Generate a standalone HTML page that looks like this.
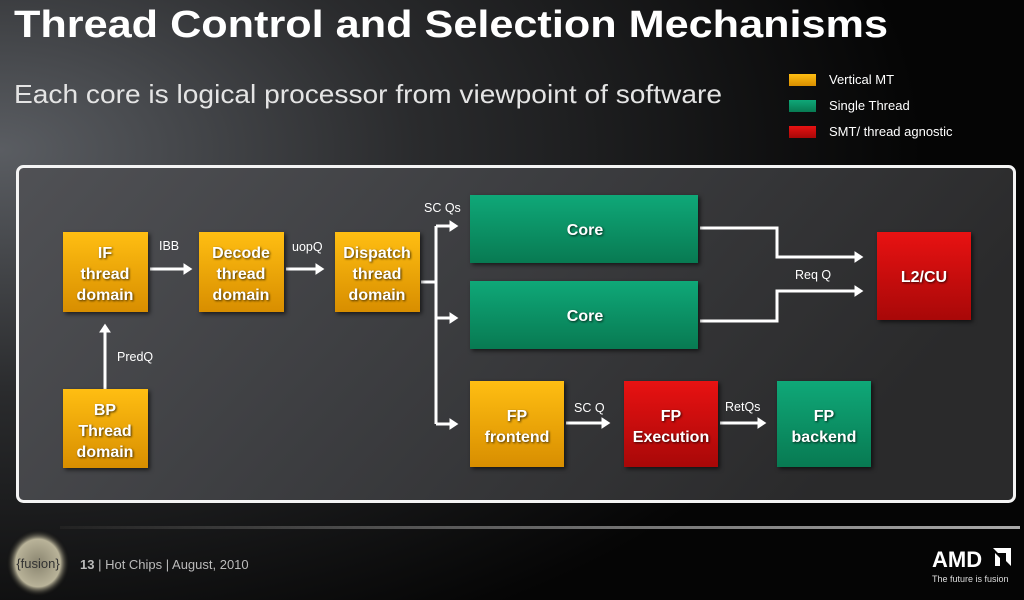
<!DOCTYPE html>
<html><head><meta charset="utf-8"><style>
html,body{margin:0;padding:0;width:1024px;height:600px;overflow:hidden;background:#000}
</style></head><body>
<svg width="1024" height="600" xmlns="http://www.w3.org/2000/svg" font-family="'Liberation Sans', sans-serif">
<defs>
<radialGradient id="bg" cx="0" cy="0.25" r="0.9">
<stop offset="0" stop-color="#5a5d62"/><stop offset="0.45" stop-color="#2a2b2d"/><stop offset="1" stop-color="#050505"/>
</radialGradient>
<linearGradient id="inner" x1="0" y1="0" x2="1" y2="0.3">
<stop offset="0" stop-color="#505155"/><stop offset="0.5" stop-color="#3c3d40"/><stop offset="1" stop-color="#2a2a2b"/>
</linearGradient>
<linearGradient id="y" x1="0" y1="0" x2="0" y2="1"><stop offset="0" stop-color="#ffbe12"/><stop offset="1" stop-color="#d88e00"/></linearGradient>
<linearGradient id="g" x1="0" y1="0" x2="0" y2="1"><stop offset="0" stop-color="#0fa878"/><stop offset="1" stop-color="#087a52"/></linearGradient>
<linearGradient id="r" x1="0" y1="0" x2="0" y2="1"><stop offset="0" stop-color="#e81212"/><stop offset="1" stop-color="#a80808"/></linearGradient>
<linearGradient id="fl" x1="0" y1="0" x2="1" y2="0"><stop offset="0" stop-color="#222"/><stop offset="1" stop-color="#aaa"/></linearGradient>
<radialGradient id="fu"><stop offset="0" stop-color="#8a8570"/><stop offset="0.7" stop-color="#b9b399"/><stop offset="1" stop-color="#000" stop-opacity="0"/></radialGradient>
<marker id="ah" markerWidth="4" markerHeight="4" refX="2.2" refY="2" orient="auto" markerUnits="strokeWidth"><path d="M0,0 L3,2 L0,4 Z" fill="#fff"/></marker>
</defs>
<rect width="1024" height="600" fill="url(#bg)"/>
<text x="14" y="37" fill="#fff" font-size="38" font-weight="bold" textLength="874" lengthAdjust="spacingAndGlyphs">Thread Control and Selection Mechanisms</text>
<text x="14" y="103" fill="#e4e4e4" font-size="26" textLength="708" lengthAdjust="spacingAndGlyphs">Each core is logical processor from viewpoint of software</text>
<rect x="789" y="74" width="27" height="12" fill="url(#y)"/>
<rect x="789" y="100" width="27" height="12" fill="url(#g)"/>
<rect x="789" y="126" width="27" height="12" fill="url(#r)"/>
<g fill="#fff" font-size="13">
<text x="829" y="84">Vertical MT</text><text x="829" y="110">Single Thread</text><text x="829" y="136">SMT/ thread agnostic</text>
</g>
<rect x="17.5" y="166.5" width="997" height="335" rx="6" fill="url(#inner)" stroke="#f4f4f4" stroke-width="3"/>
<g stroke="#fff" stroke-width="3" fill="none">
<line x1="150" y1="269" x2="190" y2="269" marker-end="url(#ah)"/>
<line x1="286" y1="269" x2="322" y2="269" marker-end="url(#ah)"/>
<line x1="105" y1="389" x2="105" y2="326" marker-end="url(#ah)"/>
<polyline points="421,282 436,282"/>
<polyline points="436,226 436,424"/>
<line x1="436" y1="226" x2="456" y2="226" marker-end="url(#ah)"/>
<line x1="436" y1="318" x2="456" y2="318" marker-end="url(#ah)"/>
<line x1="436" y1="424" x2="456" y2="424" marker-end="url(#ah)"/>
<polyline points="700,228 777,228 777,257 861,257" marker-end="url(#ah)"/>
<polyline points="700,321 777,321 777,291 861,291" marker-end="url(#ah)"/>
<line x1="566" y1="423" x2="608" y2="423" marker-end="url(#ah)"/>
<line x1="720" y1="423" x2="764" y2="423" marker-end="url(#ah)"/>
</g>
<g fill="#fff" font-size="12.5">
<text x="159" y="250">IBB</text><text x="292" y="251">uopQ</text><text x="117" y="361">PredQ</text>
<text x="424" y="212">SC Qs</text><text x="795" y="279">Req Q</text><text x="574" y="412">SC Q</text><text x="725" y="411">RetQs</text>
</g>
<g style="filter:drop-shadow(2px 2px 2px rgba(0,0,0,0.6))">
<rect x="63" y="232" width="85" height="80" fill="url(#y)"/>
<rect x="199" y="232" width="85" height="80" fill="url(#y)"/>
<rect x="335" y="232" width="85" height="80" fill="url(#y)"/>
<rect x="63" y="389" width="85" height="79" fill="url(#y)"/>
<rect x="470" y="195" width="228" height="68" fill="url(#g)"/>
<rect x="470" y="281" width="228" height="68" fill="url(#g)"/>
<rect x="877" y="232" width="94" height="88" fill="url(#r)"/>
<rect x="470" y="381" width="94" height="86" fill="url(#y)"/>
<rect x="624" y="381" width="94" height="86" fill="url(#r)"/>
<rect x="777" y="381" width="94" height="86" fill="url(#g)"/>
</g>
<g fill="#fff" font-size="16" font-weight="bold" text-anchor="middle" style="filter:drop-shadow(1px 1px 1px rgba(0,0,0,0.7))">
<text x="105" y="258">IF</text><text x="105" y="279">thread</text><text x="105" y="300">domain</text>
<text x="241" y="258">Decode</text><text x="241" y="279">thread</text><text x="241" y="300">domain</text>
<text x="377" y="258">Dispatch</text><text x="377" y="279">thread</text><text x="377" y="300">domain</text>
<text x="105" y="415">BP</text><text x="105" y="436">Thread</text><text x="105" y="457">domain</text>
<text x="585" y="235">Core</text><text x="585" y="321">Core</text>
<text x="924" y="282">L2/CU</text>
<text x="517" y="421">FP</text><text x="517" y="442">frontend</text>
<text x="671" y="421">FP</text><text x="671" y="442">Execution</text>
<text x="824" y="421">FP</text><text x="824" y="442">backend</text>
</g>
<rect x="60" y="526" width="960" height="3" fill="url(#fl)"/>
<ellipse cx="38" cy="563" rx="32" ry="34" fill="url(#fu)"/>
<text x="38" y="568" fill="#333" font-size="13" text-anchor="middle">{fusion}</text>
<text x="80" y="569" fill="#bbb" font-size="13"><tspan font-weight="bold">13</tspan> | Hot Chips | August, 2010</text>
<text x="932" y="567" fill="#fff" font-size="22" font-weight="bold">AMD</text>
<path d="M994,548 h18 v18 l-5,-5 v-8 h-8 z M996,553 l5,5 v8 h-5 z" fill="#fff" transform="translate(-1,0)"/>
<text x="932" y="582" fill="#ddd" font-size="9">The future is fusion</text>
</svg>
</body></html>
